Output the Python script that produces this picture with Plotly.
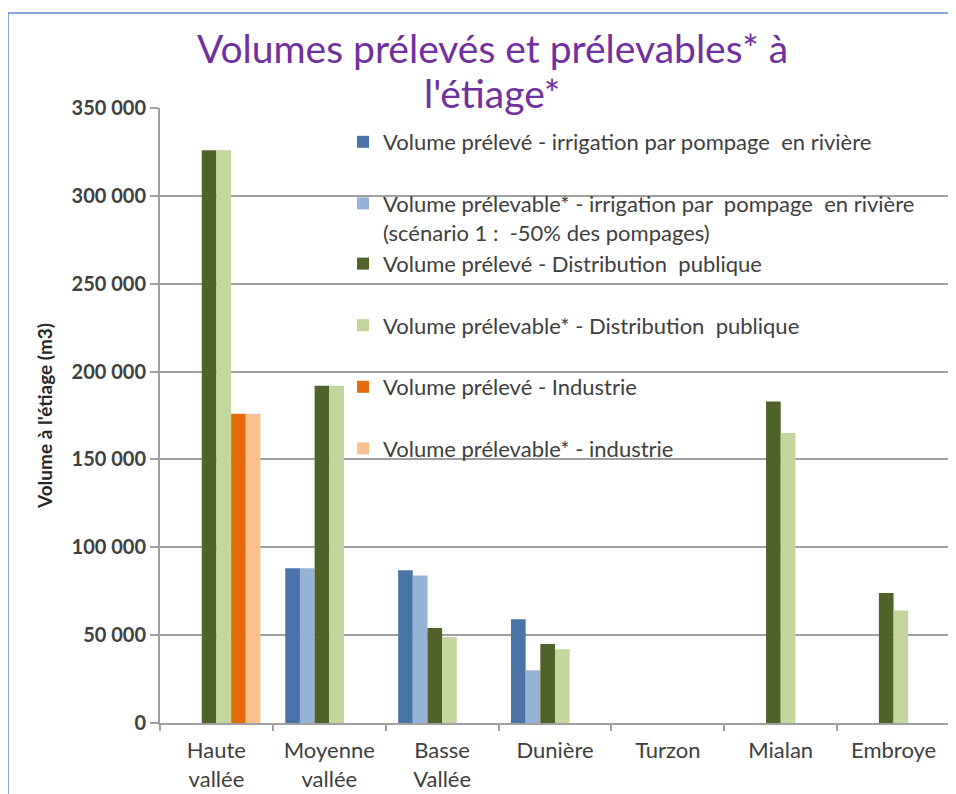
import plotly.graph_objects as go

# Données (m3)
categories = ["Haute<br>vallée", "Moyenne<br>vallée", "Basse<br>Vallée", "Dunière", "Turzon", "Mialan", "Embroye"]

irrigation_preleve = [None, 88000, 87000, 59000, None, None, None]
irrigation_prelevable = [None, 88000, 84000, 30000, None, None, None]
distribution_preleve = [326000, 192000, 54000, 45000, None, 183000, 74000]
distribution_prelevable = [326000, 192000, 49000, 42000, None, 165000, 64000]
industrie_preleve = [176000, None, None, None, None, None, None]
industrie_prelevable = [176000, None, None, None, None, None, None]

series_names = [
    "Volume prélevé - irrigation par pompage  en rivière",
    "Volume prélevable* - irrigation par  pompage  en rivière<br>(scénario 1 :  -50% des pompages)",
    "Volume prélevé - Distribution  publique",
    "Volume prélevable* - Distribution  publique",
    "Volume prélevé - Industrie",
    "Volume prélevable* - industrie",
]
series_values = [
    irrigation_preleve,
    irrigation_prelevable,
    distribution_preleve,
    distribution_prelevable,
    industrie_preleve,
    industrie_prelevable,
]
series_colors = ["#4A74A8", "#95B3D7", "#4F6228", "#C3D69B", "#E46C0A", "#FAC090"]
# la 2e entrée (sur deux lignes) est collée à la 3e, comme dans l'original
legend_groups = ["g1", "g2", "g2", "g4", "g5", "g6"]

y_tickvals = [0, 50000, 100000, 150000, 200000, 250000, 300000, 350000]
y_ticktext = ["0", "50 000", "100 000", "150 000", "200 000", "250 000", "300 000", "350 000"]

title_lines = ["Volumes prélevés et prélevables* à", "l'étiage*"]

FONT = "Lato"
TEXT_COLOR = "#404040"

# zone de tracé (px, repère de la figure)
L, T, PW, PH = 152, 100, 790, 615
W, H = 948, 786


def px_x(x):
    return (x - L) / PW


def px_y(y):
    return (T + PH - y) / PH


fig = go.Figure()

for name, vals, col, grp in zip(series_names, series_values, series_colors, legend_groups):
    fig.add_trace(go.Bar(
        x=categories,
        y=vals,
        name=name,
        legendgroup=grp,
        marker=dict(color=col, line=dict(width=0)),
    ))

# Titre sur deux lignes
for text, yc in zip(title_lines, [40, 85]):
    fig.add_annotation(
        text=text, xref="paper", yref="paper",
        x=px_x(484), y=px_y(yc), xanchor="center", yanchor="middle",
        showarrow=False,
        font=dict(family=FONT, size=39, color="#7030A0"),
    )

# Cadre bleu (coin haut-gauche de la capture)
fig.add_shape(type="line", xref="paper", yref="paper", x0=px_x(0), x1=px_x(W), y0=px_y(5), y1=px_y(5),
              line=dict(color="#5B8BD0", width=1.5))
fig.add_shape(type="line", xref="paper", yref="paper", x0=px_x(0), x1=px_x(0), y0=px_y(5), y1=px_y(H),
              line=dict(color="#5B8BD0", width=1.5))

fig.update_layout(
    width=W,
    height=H,
    barmode="group",
    bargap=0.22,
    bargroupgap=0,
    xaxis=dict(
        automargin=False,
        showline=True, linecolor="#A0A0A0", linewidth=2,
        ticks="outside", tickson="boundaries", ticklen=6, tickcolor="#A0A0A0", tickwidth=1.5,
        tickfont=dict(family=FONT, size=22, color=TEXT_COLOR),
        ticklabelstandoff=7,
        showgrid=False,
    ),
    yaxis=dict(
        automargin=False,
        range=[0, 350000],
        tickvals=y_tickvals, ticktext=y_ticktext,
        showline=True, linecolor="#A0A0A0", linewidth=2,
        ticks="outside", ticklen=8, tickcolor="#A0A0A0", tickwidth=1.5,
        showgrid=True, gridcolor="#A0A0A0", gridwidth=1.5,
        zeroline=False,
        tickfont=dict(family=FONT, size=20, color=TEXT_COLOR, weight="bold"),
        title=dict(text="Volume à l'étiage (m3)", standoff=14,
                   font=dict(family=FONT, size=19, color="#262626", weight="bold")),
    ),
    legend=dict(
        x=px_x(335), y=px_y(113), xanchor="left", yanchor="top",
        bgcolor="rgba(0,0,0,0)",
        font=dict(family=FONT, size=22, color=TEXT_COLOR),
        traceorder="grouped",
        tracegroupgap=30,
        itemwidth=30,
        valign="top",
    ),
    showlegend=True,
    margin=dict(l=L, r=W - L - PW, t=T, b=H - T - PH, autoexpand=False),
    plot_bgcolor="white",
    paper_bgcolor="white",
)

fig.write_html("out.html")
